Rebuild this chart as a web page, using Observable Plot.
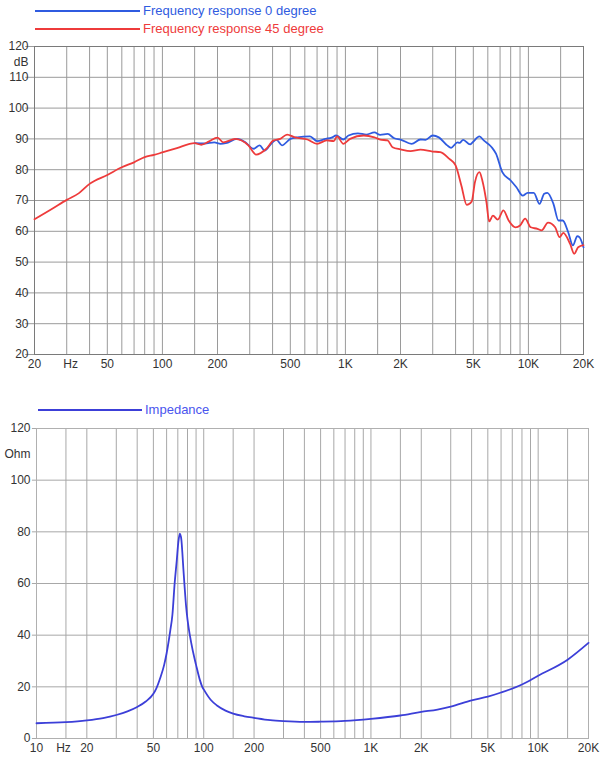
<!DOCTYPE html>
<html>
<head>
<meta charset="utf-8">
<script src="https://cdn.jsdelivr.net/npm/d3@7"></script>
<script src="https://cdn.jsdelivr.net/npm/@observablehq/plot@0.6"></script>
<style>
  body { margin: 0; background: #fff; width: 612px; height: 768px; position: relative; overflow: hidden;
         font-family: "Liberation Sans", Arial, Helvetica, sans-serif; }
  .leg { position: absolute; display: flex; align-items: center; font-size: 13px; white-space: nowrap; }
  .leg .ln { display: inline-block; height: 2px; margin-right: 3px; }
  #c1 { position: absolute; left: 0; top: 36px; }
  #c2 { position: absolute; left: 0; top: 418px; }
</style>
</head>
<body>
<div class="leg" style="left:35px; top:3px; color:#2f5be0"><span class="ln" style="width:105px; background:#2f5be0"></span>Frequency response 0 degree</div>
<div class="leg" style="left:35px; top:21px; color:#ee3b3b"><span class="ln" style="width:105px; background:#ee3b3b"></span>Frequency response 45 degree</div>
<div class="leg" style="left:38px; top:402px; color:#4a55ee"><span class="ln" style="width:104px; background:#3c3fd8"></span>Impedance</div>
<div id="c1"></div>
<div id="c2"></div>
<script>
// ---------- Frequency response data ----------
const redFreq = [20, 25, 30, 35, 40, 50, 60, 70, 80, 90, 100, 120, 150, 163, 180, 200, 215, 250, 295, 325, 370, 405, 440, 480, 530, 620, 700, 790, 865, 900, 975, 1060, 1260, 1440, 1550, 1700, 1810, 2000, 2270, 2570, 3000, 3300, 3700, 4000, 4300, 4600, 4900, 5100, 5400, 5600, 5900, 6100, 6400, 6800, 7300, 7800, 8500, 9000, 9600, 10300, 11200, 11800, 12800, 14000, 14800, 15500, 16900, 17800, 18700, 20000];
const redDb = [63.9, 67.3, 70.2, 72.4, 75.4, 78.3, 80.8, 82.4, 84.1, 84.8, 85.6, 87.0, 88.6, 88.1, 89.2, 90.4, 88.9, 90.0, 87.9, 84.9, 86.8, 89.5, 90.0, 91.4, 90.5, 89.8, 88.4, 89.5, 89.3, 90.8, 88.4, 90.0, 91.1, 90.5, 89.8, 89.5, 87.3, 86.6, 86.0, 86.5, 85.9, 85.7, 83.5, 81.4, 74.9, 68.6, 69.7, 75.9, 79.2, 76.5, 69.4, 63.2, 65.1, 63.8, 66.8, 63.5, 61.3, 61.9, 64.1, 61.3, 60.8, 60.3, 62.8, 61.3, 58.1, 59.5, 55.9, 52.7, 54.8, 55.5];

const blueFreq = [150, 170, 192, 208, 222, 256, 284, 315, 340, 362, 395, 420, 450, 500, 545, 640, 700, 780, 840, 890, 975, 1040, 1170, 1300, 1440, 1550, 1700, 1850, 2000, 2300, 2570, 2740, 3000, 3240, 3600, 3780, 4100, 4200, 4400, 4800, 4960, 5400, 5700, 6300, 6650, 7200, 8000, 8600, 9300, 9900, 10700, 11500, 12200, 12700, 13700, 14600, 15400, 16500, 17500, 18500, 19000, 20000];
const blueDb = [88.6, 88.5, 88.9, 88.4, 88.6, 90.0, 88.9, 86.8, 87.9, 86.2, 88.6, 89.7, 87.9, 90.0, 90.5, 90.8, 89.3, 90.0, 90.4, 91.1, 89.8, 91.1, 91.8, 91.4, 92.1, 91.3, 91.6, 90.2, 89.8, 88.4, 89.8, 89.7, 91.1, 90.5, 87.9, 87.1, 88.9, 88.7, 89.7, 88.2, 88.9, 90.8, 89.5, 87.3, 85.2, 79.2, 76.5, 74.3, 71.6, 72.5, 72.5, 68.9, 72.2, 72.5, 68.9, 63.5, 63.5, 59.7, 55.4, 58.4, 58.1, 54.8];

// ---------- Impedance data ----------
const impFreq = [10, 15, 20, 25, 30, 35, 40, 45, 50, 52, 55, 58, 60, 62, 63, 65, 67, 69, 70.5, 72, 73.5, 74.5, 75.5, 77, 78.5, 80, 82.6, 86, 90, 95, 98, 100, 110, 120, 135, 150, 175, 200, 250, 300, 400, 500, 700, 1000, 1500, 2000, 2500, 3000, 4000, 5000, 6000, 8000, 10000, 15000, 20000];
const impOhm = [5.9, 6.3, 7.0, 7.9, 9.1, 10.5, 12.2, 14.3, 17.3, 19.3, 23.5, 28.5, 33, 38.5, 41.5, 48, 60, 69, 76, 79.3, 77, 72, 66, 58, 51, 46, 40, 34, 28.5, 22.5, 20, 19, 15, 12.8, 10.8, 9.6, 8.6, 8.0, 7.1, 6.7, 6.4, 6.5, 6.8, 7.6, 8.9, 10.3, 11.2, 12.3, 14.8, 16.2, 17.8, 20.9, 24.3, 30.5, 37];

// ---------- Axes / grid ----------
const topGrid = [30, 40, 50, 60, 70, 80, 90, 100, 150, 200, 300, 400, 500, 600, 700, 800, 900, 1000, 1500, 2000, 3000, 4000, 5000, 6000, 7000, 8000, 9000, 10000, 15000];
const topTickVals = [20, 31.5, 50, 100, 200, 500, 1000, 2000, 5000, 10000, 20000];
const topTickLabels = ["20", "Hz", "50", "100", "200", "500", "1K", "2K", "5K", "10K", "20K"];
const dbTicks = [20, 30, 40, 50, 60, 70, 80, 90, 100, 110, 120];

const botGrid = [15, 20, 30, 40, 50, 60, 70, 80, 90, 100, 150, 200, 300, 400, 500, 600, 700, 800, 900, 1000, 1500, 2000, 3000, 4000, 5000, 6000, 7000, 8000, 9000, 10000, 15000];
const botTickVals = [10, 14.5, 20, 50, 100, 200, 500, 1000, 2000, 5000, 10000, 20000];
const botTickLabels = ["10", "Hz", "20", "50", "100", "200", "500", "1K", "2K", "5K", "10K", "20K"];
const ohmTicks = [0, 20, 40, 60, 80, 100, 120];

const red = redFreq.map((f, i) => ({f, v: redDb[i]}));
const blue = blueFreq.map((f, i) => ({f, v: blueDb[i]}));
const imp = impFreq.map((f, i) => ({f, v: impOhm[i]}));
const topTicks = topTickVals.map((f, i) => ({f, label: topTickLabels[i]}));
const botTicks = botTickVals.map((f, i) => ({f, label: botTickLabels[i]}));

const fontStyle = {fontFamily: "'Liberation Sans', Arial, Helvetica, sans-serif", fontSize: "12px", color: "#333", background: "transparent", overflow: "visible"};

const p1 = Plot.plot({
  width: 612, height: 338,
  marginLeft: 34, marginRight: 29, marginTop: 10, marginBottom: 20,
  style: fontStyle,
  x: {type: "log", domain: [20, 20000], axis: null},
  y: {domain: [20, 120]},
  marks: [
    Plot.ruleX(topGrid, {stroke: "#9a9a9a", strokeWidth: 1}),
    Plot.ruleY(dbTicks, {x1: 17.9, x2: 20000, stroke: "#9a9a9a", strokeWidth: 1}),
    Plot.frame({stroke: "#7a7a7a", strokeWidth: 1}),
    Plot.text(topTicks, {x: "f", text: "label", frameAnchor: "bottom", dy: 13, fill: "#333"}),
    Plot.axisY(dbTicks, {tickSize: 0, tickPadding: 6, label: null}),
    Plot.text(["dB"], {x: 20, y: 115, text: d => d, textAnchor: "end", dx: -6, fill: "#333"}),
    Plot.line(blue, {x: "f", y: "v", stroke: "#2f5be0", strokeWidth: 1.8, curve: "monotone-x"}),
    Plot.line(red, {x: "f", y: "v", stroke: "#ee3b3b", strokeWidth: 1.8, curve: "monotone-x"})
  ]
});
document.getElementById("c1").append(p1);

const p2 = Plot.plot({
  width: 612, height: 342,
  marginLeft: 36, marginRight: 24, marginTop: 10, marginBottom: 22,
  style: fontStyle,
  x: {type: "log", domain: [10, 20000], axis: null},
  y: {domain: [0, 120]},
  marks: [
    Plot.ruleX(botGrid, {stroke: "#a8a8a8", strokeWidth: 1}),
    Plot.ruleY(ohmTicks, {x1: 9.45, x2: 20000, stroke: "#a8a8a8", strokeWidth: 1}),
    Plot.frame({stroke: "#b0b0b0", strokeWidth: 1}),
    Plot.text(botTicks, {x: "f", text: "label", frameAnchor: "bottom", dy: 13, fill: "#333"}),
    Plot.axisY(ohmTicks, {tickSize: 0, tickPadding: 6, label: null}),
    Plot.text(["Ohm"], {x: 10, y: 110, text: d => d, textAnchor: "end", dx: -6, fill: "#333"}),
    Plot.line(imp, {x: "f", y: "v", stroke: "#3c3fd8", strokeWidth: 1.8, curve: "monotone-x"})
  ]
});
document.getElementById("c2").append(p2);
</script>
</body>
</html>
